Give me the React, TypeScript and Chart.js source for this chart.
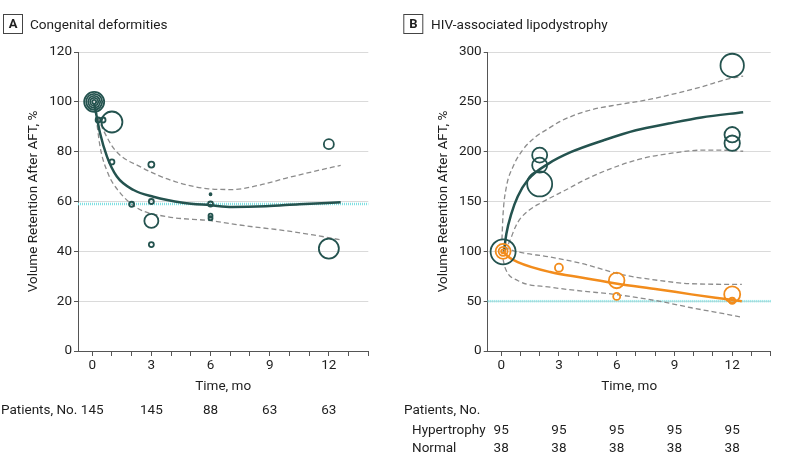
import React, { useEffect, useRef } from "react";
import { Chart, registerables } from "chart.js";

Chart.register(...registerables);

const FONT = "Roboto, 'Liberation Sans', sans-serif";
const TEXT = "#1e1e1e";
const TEAL = "#24534f";
const ORANGE = "#f28c1c";
const CYAN = "#7fe0e2";
const DASH = "#8c8c8c";
const AXIS = "#555555";
const GRID = "#dadada";

// ---------- shared ----------
const monthTicks = [0, 1, 2, 3, 4, 5, 6, 7, 8, 9, 10, 11, 12, 13, 14];
const labeledMonths = [0, 3, 6, 9, 12];

// ---------- Panel A: Congenital deformities ----------
const aTitle = "Congenital deformities";
const aYTicks = [0, 20, 40, 60, 80, 100, 120];
const aReference = 59;
const aPatients = [145, 145, 88, 63, 63];

const aStudyX = [0.1, 0.1, 0.1, 0.1, 0.1, 0.3, 0.55, 1, 1, 2, 3, 3, 3, 3, 6, 6, 6, 6, 12, 12];
const aStudyY = [100, 100, 100, 100, 100, 92.7, 92.7, 91.9, 75.9, 58.9, 74.8, 60, 52.2, 42.7, 62.9, 59, 54.3, 53.3, 83, 41.1];
const aStudySize = [10, 8, 6, 4, 2, 2.5, 2.5, 10.5, 2.5, 2.5, 3, 2.5, 7, 2.5, 1, 2.5, 2, 2, 5, 10];

const aFitX = [0.1, 0.4, 0.75, 1.25, 2.1, 3.1, 4.6, 6, 7.1, 8.8, 10.5, 12.6];
const aFitY = [99.4, 87.4, 78, 70, 64.6, 61.9, 59.5, 58.5, 57.8, 58.1, 58.9, 59.7];
const aUpperX = [0.15, 0.35, 0.56, 1.15, 2.5, 4.2, 5.9, 7.1, 8.5, 9.8, 11.2, 12.6];
const aUpperY = [97, 92.5, 88.7, 80.7, 73.7, 68, 65.1, 64.8, 66.6, 69.3, 72, 74.5];
const aLowerX = [0.15, 0.4, 0.8, 1.3, 2.3, 3.8, 6, 7.8, 9.5, 11.2, 12.6];
const aLowerY = [97, 82, 71.3, 64.6, 57.3, 53.9, 52.3, 50.2, 48.6, 46.6, 44.6];

// ---------- Panel B: HIV-associated lipodystrophy ----------
const bTitle = "HIV-associated lipodystrophy";
const bYTicks = [0, 50, 100, 150, 200, 250, 300];
const bReference = 50;
const bGroups = ["Hypertrophy", "Normal"];
const bHyperPatients = [95, 95, 95, 95, 95];
const bNormalPatients = [38, 38, 38, 38, 38];

const bHyperX = [0.1, 2, 2, 2, 12, 12, 12];
const bHyperY = [99.5, 196.5, 186.4, 167.6, 286.5, 217, 208.5];
const bHyperSize = [12.5, 7.5, 7.5, 12.5, 11.7, 7.7, 7.7];
const bNormalX = [0.1, 0.1, 0.1, 3, 6, 6, 12, 12];
const bNormalY = [100, 100, 100, 83.6, 70.8, 54.8, 56.8, 50.4];
const bNormalSize = [7.5, 4.5, 2, 4, 7.8, 3.5, 8, 3];

const bHyperFitX = [0.14, 0.27, 0.53, 0.86, 1.4, 2.46, 3.64, 5.33, 7.0, 8.7, 10.4, 12.57];
const bHyperFitY = [99.3, 117.7, 137.8, 155, 172, 188, 199.7, 211.5, 221.5, 228.2, 234.3, 239.6];
const bHyperUpperX = [0.04, 0.1, 0.27, 0.61, 1.11, 1.79, 2.46, 3.13, 4.48, 6.17, 7.5, 8.7, 10.4, 11.7, 12.57];
const bHyperUpperY = [112, 138, 164.6, 184.7, 201.5, 214.9, 223.3, 231, 241, 247.5, 251.7, 256.7, 265, 272.5, 275.8];
const bHyperLowerX = [0.2, 0.5, 0.75, 1.0, 1.5, 2, 3.3, 4.48, 6.17, 7.5, 8.7, 10.4, 11.7, 12.57];
const bHyperLowerY = [100, 113, 125, 133, 142, 148, 161, 173, 186.4, 194, 198, 201.5, 201.4, 200.4];

const bNormalFitX = [0.1, 0.35, 0.86, 2.55, 4.23, 6.04, 8.19, 9.88, 11.56, 12.5];
const bNormalFitY = [100, 94.9, 89.2, 79.2, 73.5, 67.5, 61.8, 56.8, 52.4, 50];
const bNormalUpperX = [0.15, 0.69, 2.55, 4.23, 6.2, 8.19, 9.88, 12.5];
const bNormalUpperY = [104, 100.3, 94.2, 87.6, 77, 70.8, 67.5, 66.8];
const bNormalLowerX = [0.1, 0.19, 0.86, 2.55, 4.23, 5.9, 8.19, 9.88, 11.56, 12.5];
const bNormalLowerY = [92, 84.2, 70.8, 64.1, 60.1, 56.8, 50, 43.4, 37.4, 34];

// ---------- helpers ----------
const pts = (xs: number[], ys: number[]) => xs.map((x, i) => ({ x, y: ys[i] }));
const bubbles = (xs: number[], ys: number[], rs: number[]) => xs.map((x, i) => ({ x, y: ys[i], r: rs[i] }));

function bubbleDs(data: any[], color: string) {
  return {
    type: "bubble",
    data,
    backgroundColor: "rgba(0,0,0,0)",
    borderColor: color,
    borderWidth: 1.8,
    hoverRadius: 0,
  };
}
function lineDs(data: any[], color: string, width: number, dash: number[] = []) {
  return {
    type: "line",
    data,
    borderColor: color,
    borderWidth: width,
    borderDash: dash,
    pointRadius: 0,
    fill: false,
    cubicInterpolationMode: "monotone",
  };
}

type Layout = {
  width: number;
  plotLeft: number;
  plotRight: number;
  xMin: number;
  boxX: number;
  titleX: number;
  yTitleX: number;
  tableX: number;
  groupX: number;
};

function makePlugin(letter: string, title: string, ref: number, groups: string[], rows: number[][], lay: Layout) {
  return {
    id: "panelText",
    beforeDatasetsDraw(chart: any) {
      const ctx = chart.ctx;
      const y = chart.scales.y.getPixelForValue(ref);
      const { left, right } = chart.chartArea;
      ctx.save();
      ctx.strokeStyle = CYAN;
      ctx.lineWidth = 2.5;
      ctx.setLineDash([1, 1]);
      ctx.beginPath();
      ctx.moveTo(left, y);
      ctx.lineTo(right, y);
      ctx.stroke();
      ctx.restore();
    },
    afterDraw(chart: any) {
      const ctx = chart.ctx;
      const area = chart.chartArea;
      const xs = chart.scales.x;
      ctx.save();
      // panel label box
      ctx.strokeStyle = "#444";
      ctx.lineWidth = 1;
      ctx.strokeRect(lay.boxX + 0.5, 14.5, 19, 19);
      ctx.fillStyle = TEXT;
      ctx.font = `bold 13px ${FONT}`;
      ctx.textAlign = "center";
      ctx.textBaseline = "middle";
      ctx.fillText(letter, lay.boxX + 10, 24.5);
      ctx.font = `13.6px ${FONT}`;
      ctx.textAlign = "left";
      ctx.textBaseline = "alphabetic";
      ctx.fillText(title, lay.titleX, 28.5);
      // y title
      ctx.font = `13.5px ${FONT}`;
      ctx.save();
      ctx.translate(lay.yTitleX, (area.top + area.bottom) / 2);
      ctx.rotate(-Math.PI / 2);
      ctx.textAlign = "center";
      ctx.textBaseline = "middle";
      ctx.fillText("Volume Retention After AFT, %", 0, 0);
      ctx.restore();
      // x title
      ctx.textAlign = "center";
      ctx.textBaseline = "middle";
      ctx.fillText("Time, mo", (area.left + area.right) / 2, 387);
      // patients table
      ctx.textAlign = "left";
      ctx.fillText("Patients, No.", lay.tableX, 411);
      if (groups.length === 0) {
        ctx.textAlign = "center";
        rows[0].forEach((n, i) => ctx.fillText(String(n), xs.getPixelForValue(labeledMonths[i]), 411));
      } else {
        groups.forEach((g, gi) => {
          const y = 431 + gi * 17.5;
          ctx.textAlign = "left";
          ctx.fillText(g, lay.groupX, y);
          ctx.textAlign = "center";
          rows[gi].forEach((n, i) => ctx.fillText(String(n), xs.getPixelForValue(labeledMonths[i]), y));
        });
      }
      ctx.restore();
    },
  };
}

function makeConfig(yTicks: number[], datasets: any[], plugin: any, lay: Layout) {
  const yMax = yTicks[yTicks.length - 1];
  return {
    type: "scatter",
    data: { datasets },
    options: {
      responsive: false,
      animation: false,
      events: [],
      layout: { padding: { left: 0, right: lay.width - lay.plotRight, top: 52, bottom: 0 } },
      plugins: { legend: { display: false }, tooltip: { enabled: false } },
      scales: {
        x: {
          type: "linear",
          min: lay.xMin,
          max: monthTicks[monthTicks.length - 1],
          afterFit: (s: any) => {
            s.height = 466 - 351;
          },
          afterBuildTicks: (s: any) => {
            s.ticks = monthTicks.map((v) => ({ value: v }));
          },
          grid: { drawOnChartArea: false, tickLength: 5, tickColor: AXIS, color: AXIS },
          border: { color: AXIS, width: 1 },
          ticks: {
            autoSkip: false,
            maxRotation: 0,
            padding: 2,
            color: TEXT,
            font: { family: FONT, size: 13.5 },
            callback: (v: number) => (labeledMonths.includes(v) ? String(v) : ""),
          },
        },
        y: {
          type: "linear",
          min: 0,
          max: yMax,
          afterFit: (s: any) => {
            s.width = lay.plotLeft;
          },
          afterBuildTicks: (s: any) => {
            s.ticks = yTicks.map((v) => ({ value: v }));
          },
          grid: { color: GRID, tickColor: AXIS, tickLength: 4, lineWidth: 1 },
          border: { color: AXIS, width: 1 },
          ticks: { padding: 2, color: TEXT, font: { family: FONT, size: 13.5 } },
        },
      },
    },
    plugins: [plugin],
  };
}

const layA: Layout = {
  width: 392,
  plotLeft: 78,
  plotRight: 368.3,
  xMin: -0.72,
  boxX: 3,
  titleX: 30,
  yTitleX: 34,
  tableX: 1,
  groupX: 0,
};
const layB: Layout = {
  width: 393,
  plotLeft: 95.7,
  plotRight: 385.7,
  xMin: -0.7,
  boxX: 11.3,
  titleX: 39,
  yTitleX: 52,
  tableX: 12,
  groupX: 20,
};

function configA() {
  const datasets = [
    bubbleDs(bubbles(aStudyX, aStudyY, aStudySize), TEAL),
    lineDs(pts(aFitX, aFitY), TEAL, 2.5),
    lineDs(pts(aUpperX, aUpperY), DASH, 1.3, [5, 3]),
    lineDs(pts(aLowerX, aLowerY), DASH, 1.3, [5, 3]),
  ];
  return makeConfig(aYTicks, datasets, makePlugin("A", aTitle, aReference, [], [aPatients], layA), layA);
}

function configB() {
  const datasets = [
    bubbleDs(bubbles(bNormalX, bNormalY, bNormalSize), ORANGE),
    bubbleDs(bubbles(bHyperX, bHyperY, bHyperSize), TEAL),
    lineDs(pts(bNormalFitX, bNormalFitY), ORANGE, 2.5),
    lineDs(pts(bHyperFitX, bHyperFitY), TEAL, 2.5),
    lineDs(pts(bHyperUpperX, bHyperUpperY), DASH, 1.3, [5, 3]),
    lineDs(pts(bHyperLowerX, bHyperLowerY), DASH, 1.3, [5, 3]),
    lineDs(pts(bNormalUpperX, bNormalUpperY), DASH, 1.3, [5, 3]),
    lineDs(pts(bNormalLowerX, bNormalLowerY), DASH, 1.3, [5, 3]),
  ];
  return makeConfig(
    bYTicks,
    datasets,
    makePlugin("B", bTitle, bReference, bGroups, [bHyperPatients, bNormalPatients], layB),
    layB
  );
}

function Panel({ build, left, width }: { build: () => any; left: number; width: number }) {
  const ref = useRef<HTMLCanvasElement>(null);
  useEffect(() => {
    const chart = new Chart(ref.current as HTMLCanvasElement, build());
    return () => chart.destroy();
  }, []);
  return (
    <canvas
      ref={ref}
      width={width}
      height={466}
      style={{ position: "absolute", left, top: 0, width, height: 466 }}
    />
  );
}

export default function App() {
  return (
    <div style={{ position: "fixed", left: 0, top: 0, width: 785, height: 466, background: "#fff" }}>
      <Panel build={configA} left={0} width={392} />
      <Panel build={configB} left={392} width={393} />
    </div>
  );
}
